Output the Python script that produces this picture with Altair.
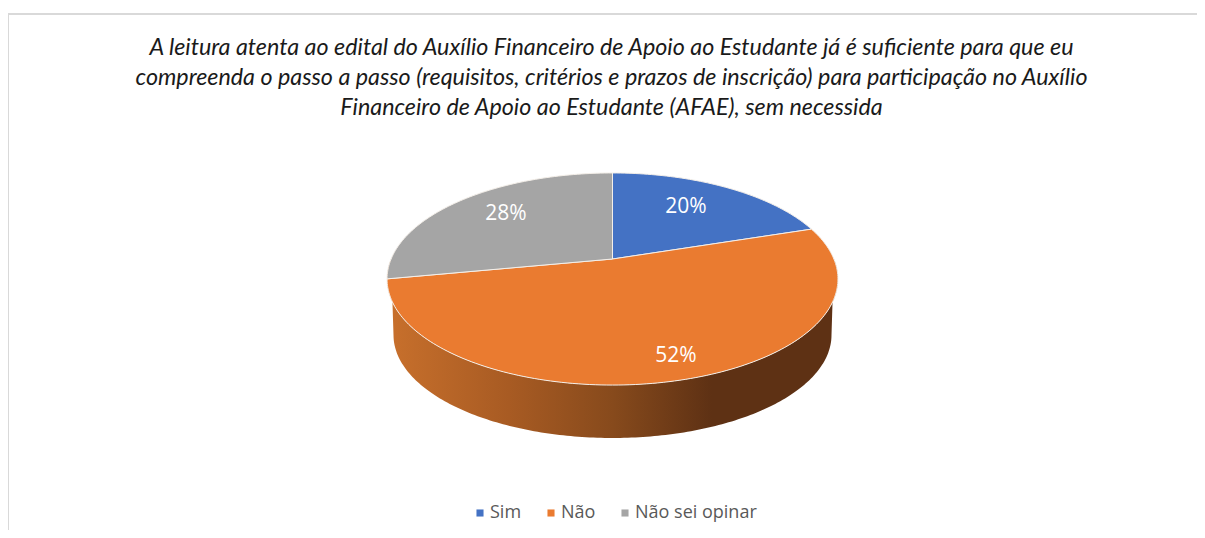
import math
import altair as alt

categories = ["Sim", "Não", "Não sei opinar"]
percent = [20, 52, 28]
colors = ["#4472c4", "#ea7b30", "#a5a5a5"]
label_x = [686, 676, 506]
label_y = [207, 356, 214]
title_lines = [
    "A leitura atenta ao edital do Auxílio Financeiro de Apoio ao Estudante já é suficiente para que eu",
    "compreenda o passo a passo (requisitos, critérios e prazos de inscrição) para participação no Auxílio",
    "Financeiro de Apoio ao Estudante (AFAE), sem necessida",
]

CX, APEX_Y, K_X, A, C = 612.5, 259.0, 221.4, 53.4, -0.1887


def disc(turn):
    """Perspective view of a point on the pie's rim (turn 0..1, clockwise from the back)."""
    u, v = math.sin(2 * math.pi * turn), -math.cos(2 * math.pi * turn)
    w = 1 + C * v
    return [CX + K_X * u / w, (A * v + APEX_Y) / w]


features = []
start = 0
for name, pct in zip(categories, percent):
    n = max(2, pct * 3)
    rim = [disc((start + (pct * i) / n) / 100) for i in range(n + 1)]
    ring = [[CX, APEX_Y]] + rim + [[CX, APEX_Y]]
    features.append({
        "type": "Feature",
        "properties": {"cat": name},
        "geometry": {"type": "Polygon", "coordinates": [ring]},
    })
    start += pct

front = [disc(t / 200) for t in range(50, 151)]
low = []
for t in range(0, 181):
    a = math.pi * t / 180
    low.append([612.5 - 219 * math.cos(a), 335 + 103 * math.sin(a)])
side_ring = front + low + [front[0]]
side_feature = [{
    "type": "Feature",
    "properties": {"cat": "side"},
    "geometry": {"type": "Polygon", "coordinates": [side_ring]},
}]

proj = dict(type="identity", scale=1, translate=[-8, -8])

side = (
    alt.Chart(alt.Data(values=side_feature))
    .mark_geoshape(
        stroke=None,
        fill=alt.Gradient(
            gradient="linear", x1=0, x2=1, y1=0, y2=0,
            stops=[
                alt.GradientStop(color="#c8702c", offset=0),
                alt.GradientStop(color="#a85b23", offset=0.27),
                alt.GradientStop(color="#874a1c", offset=0.5),
                alt.GradientStop(color="#5e3114", offset=0.72),
                alt.GradientStop(color="#5e3114", offset=1),
            ],
        ),
    )
    .project(**proj)
)

top = (
    alt.Chart(alt.Data(values=features))
    .mark_geoshape(stroke="#f4efe9", strokeWidth=1)
    .encode(
        fill=alt.Color(
            "properties.cat:N",
            scale=alt.Scale(domain=categories, range=colors),
            legend=alt.Legend(
                title=None, orient="none", direction="horizontal",
                legendX=463, legendY=496,
                symbolType="square", symbolSize=50, symbolStrokeWidth=0,
                labelFont="Open Sans", labelFontSize=18, labelColor="#595959",
                columnPadding=20, labelOffset=1, rowPadding=0, labelLimit=300,
            ),
        )
    )
    .project(**proj)
)

labels = (
    alt.Chart(alt.Data(values=[
        {"t": f"{p}%", "x": x - 8, "y": y - 8}
        for p, x, y in zip(percent, label_x, label_y)
    ]))
    .mark_text(font="Open Sans", fontSize=21, color="white", align="center", baseline="middle")
    .encode(
        text="t:N",
        x=alt.X("x:Q", scale=None, axis=None),
        y=alt.Y("y:Q", scale=None, axis=None),
    )
)

frame = alt.Chart(alt.Data(values=[
    {"x": 0, "x2": 1189, "y": 6, "y2": 6},
    {"x": 0, "x2": 0, "y": 6, "y2": 522},
])).mark_rule(stroke="#d9d9d9", strokeWidth=2).encode(
    x=alt.X("x:Q", scale=None, axis=None), x2="x2:Q",
    y=alt.Y("y:Q", scale=None, axis=None), y2="y2:Q",
)

chart = (
    alt.layer(frame, side, top, labels)
    .properties(
        width=1189, height=522, padding=0, background="white",
        autosize=alt.AutoSizeParams(type="none"),
        title=alt.TitleParams(
            text=title_lines, anchor="middle", orient="top", frame="group",
            offset=-112, dx=9, font="Lato", fontStyle="italic", fontWeight="normal",
            fontSize=23.3, lineHeight=30, color="#1a1a1a", limit=1189,
        ),
    )
    .configure_view(stroke=None)
)

chart.save("out.html", embed_options={"renderer": "svg", "actions": False})
